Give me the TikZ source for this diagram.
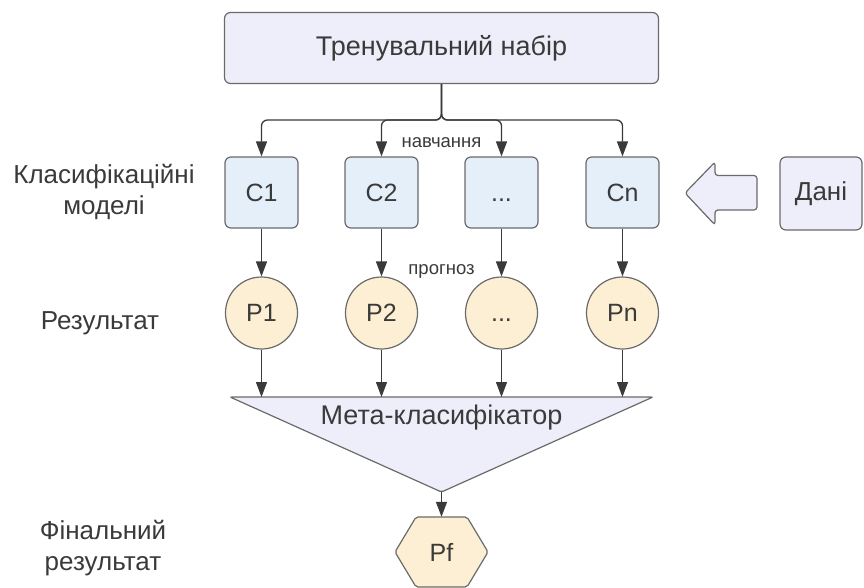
\documentclass[tikz,border=0pt]{standalone}
\usepackage{fontspec}
\setmainfont{Liberation Sans}
\usetikzlibrary{arrows.meta,calc}
\definecolor{edge}{HTML}{6A6A6A}
\definecolor{txt}{HTML}{3A3A3A}
\definecolor{lav}{HTML}{EEEEFA}
\definecolor{lblue}{HTML}{E5EFFA}
\definecolor{cream}{HTML}{FCEFD4}
\begin{document}
\begin{tikzpicture}[x=1pt,y=-1pt,
  every node/.style={text=txt},
  big/.style={font=\fontsize{25}{29}\selectfont},
  small/.style={font=\fontsize{18.5}{21}\selectfont},
  side/.style={font=\fontsize{26}{31}\selectfont, align=center},
  topbox/.style={draw=edge, line width=1.2pt, fill=lav, rounded corners=6pt, minimum width=434pt, minimum height=71pt, font=\fontsize{27}{30}\selectfont},
  cbox/.style={draw=edge, line width=1.2pt, fill=lblue, rounded corners=6pt, minimum width=73pt, minimum height=71pt, big},
  pcirc/.style={draw=edge, line width=1.2pt, fill=cream, circle, minimum size=72pt, inner sep=0pt, big},
  conn/.style={draw=txt, line width=1.3pt, -{Triangle[length=15pt,width=11pt]}},
]
\useasboundingbox (0,0) rectangle (864,588);

% training set
\node[topbox] (T) at (441.5,48) {Тренувальний набір};

% classifiers
\node[cbox] (C1) at (261.5,192.5) {C1};
\node[cbox] (C2) at (381.5,192.5) {C2};
\node[cbox] (C3) at (501.5,192.5) {\vphantom{C}...};
\node[cbox] (Cn) at (622.5,192.5) {Cn};

% results
\node[pcirc] (P1) at (261.5,313) {P1};
\node[pcirc] (P2) at (381.5,313) {P2};
\node[pcirc] (P3) at (501.5,313) {\vphantom{P}...};
\node[pcirc] (Pn) at (622.5,313) {Pn};

% meta-classifier triangle
\coordinate (mA) at (230,397);
\coordinate (mB) at (653,397);
\coordinate (mC) at (441.5,492);
\draw[edge, line width=1.2pt, fill=lav, rounded corners=2pt] (mA) -- (mB) -- (mC) -- cycle;
\node[font=\fontsize{27}{30}\selectfont] (M) at (441.5,418) {Мета-класифікатор};
\coordinate (m1) at (261.5,397);
\coordinate (m2) at (381.5,397);
\coordinate (m3) at (501.5,397);
\coordinate (m4) at (622.5,397);

% final hexagon
\draw[edge, line width=1.2pt, fill=cream, rounded corners=2pt]
  (395,552) -- (416,517) -- (467,517) -- (488,552) -- (467,587) -- (416,587) -- cycle;
\node[big, minimum height=70pt, inner sep=0pt] (Pf) at (441.5,552) {Pf};

% data input arrow shape and box
\draw[edge, line width=1.2pt, fill=lav, rounded corners=3pt]
  (685,193) -- (715,162) -- (715,175.5) -- (757,175.5) -- (757,210) -- (715,210) -- (715,225) -- cycle;
\node[draw=edge, line width=1.2pt, fill=lav, rounded corners=6pt, minimum width=82pt, minimum height=73pt, font=\fontsize{26}{30}\selectfont] (D) at (821,193.5) {Дані};

% connectors: training
\coordinate (j) at (441.5,120);
\foreach \c in {C1,C2,C3,Cn}{
  \draw[conn, rounded corners=6pt] (T.south) -- (j) -| (\c.north);
}
\node[small] (lt) at (441.5,143) {навчання};

% classifiers -> results
\draw[conn] (C1.south) -- (P1.north);
\draw[conn] (C2.south) -- (P2.north);
\draw[conn] (C3.south) -- (P3.north);
\draw[conn] (Cn.south) -- (Pn.north);
\node[small] (lp) at (441.5,271) {прогноз};

% results -> meta
\draw[conn] (P1.south) -- (m1);
\draw[conn] (P2.south) -- (m2);
\draw[conn] (P3.south) -- (m3);
\draw[conn] (Pn.south) -- (m4);

% meta -> final
\draw[conn] (mC) -- (Pf.north);

% side labels
\node[side] (L1) at (104,192) {Класифікаційні\\моделі};
\node[side] (L2) at (100,323) {Результат};
\node[side] (L3) at (103,548) {Фінальний\\результат};
\end{tikzpicture}
\end{document}
